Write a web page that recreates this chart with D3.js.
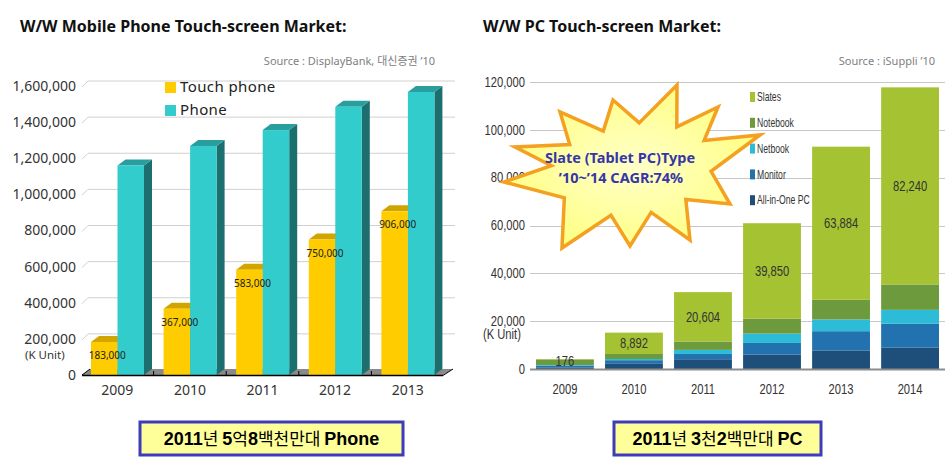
<!DOCTYPE html>
<html>
<head>
<meta charset="utf-8">
<script src="https://cdn.jsdelivr.net/npm/d3@7"></script>
<style>
  body { margin: 0; background: #fff; }
  svg { display: block; }
  .title { font-family: "Noto Sans", sans-serif; font-weight: bold; font-size: 16px; fill: #111; }
  .src { font-family: "Noto Sans", "Noto Sans CJK KR", sans-serif; font-size: 11px; fill: #808080; }
  .l-tick { font-family: "Noto Sans", sans-serif; font-size: 14px; fill: #333; }
  .r-tick { font-family: "Liberation Sans", Arial, sans-serif; font-size: 14px; fill: #333; }
  .note { font-family: "Liberation Sans", Arial, sans-serif; font-size: 18px; font-weight: bold; fill: #000; }
  .note .ko { font-family: "Noto Sans CJK KR", sans-serif; font-weight: normal; font-size: 17px; }
</style>
</head>
<body>
<script>
// ---- left chart data (K units)
const phoneYears = ['2009', '2010', '2011', '2012', '2013']
const touchPhone = [183000, 367000, 583000, 750000, 906000]
const phoneTotal = [1160000, 1268000, 1356000, 1485000, 1567000]
const phoneTicks = [0, 200000, 400000, 600000, 800000, 1000000, 1200000, 1400000, 1600000]

// ---- right chart data (K units)
const pcYears = ['2009', '2010', '2011', '2012', '2013', '2014']
const allInOne = [800, 2500, 4200, 6200, 7900, 9000]
const monitor = [700, 1300, 2200, 4800, 8000, 10000]
const netbook = [300, 500, 1700, 3900, 4900, 5800]
const notebook = [2300, 2100, 3500, 6200, 8200, 10600]
const slates = [176, 8892, 20604, 39850, 63884, 82240]
const pcTicks = [0, 20000, 40000, 60000, 80000, 100000, 120000]
const pcSeries = ['All-in-One PC', 'Monitor', 'Netbook', 'Notebook', 'Slates']

const W = 949, H = 461
const svg = d3.select('body').append('svg').attr('width', W).attr('height', H)
const fmt = d3.format(',')
const NARROW = 0.8 // horizontal squeeze for the condensed labels on the PC chart

// ===================== LEFT: mobile phone (3D columns)
svg.append('text').attr('class', 'title').attr('x', 20).attr('y', 32)
  .text('W/W Mobile Phone Touch-screen Market:')
svg.append('text').attr('class', 'src').attr('x', 435).attr('y', 65).attr('text-anchor', 'end')
  .text('Source : DisplayBank, 대신증권 \u201910')

const depth = { dx: 8, dy: -6 }
const y1 = d3.scaleLinear().domain([0, 1600000]).range([375, 86])
const x1 = d3.scaleBand().domain(phoneYears).range([81, 444])
const xs = d3.scaleBand().domain(['touch', 'phone']).range([10, 63])

const left = svg.append('g')

// back-wall gridlines
left.selectAll('g.grid').data(phoneTicks.filter(d => d > 0)).join('g').attr('class', 'grid')
  .each(function (d) {
    const g = d3.select(this), yy = y1(d)
    g.append('line').attr('x1', 82).attr('y1', yy + 1).attr('x2', 88).attr('y2', yy + depth.dy + 1)
      .attr('stroke', '#d0d0d0')
    g.append('line').attr('x1', 88).attr('x2', 455).attr('y1', yy + depth.dy + 1).attr('y2', yy + depth.dy + 1)
      .attr('stroke', '#d0d0d0')
  })

// floor
left.append('path')
  .attr('d', `M82,375 L443,375 L${443 + depth.dx + 2},${375 + depth.dy} L${82 + depth.dx},${375 + depth.dy} Z`)
  .attr('fill', '#8a8a8a')

// tick labels
left.selectAll('text.yt').data(phoneTicks).join('text').attr('class', 'l-tick yt')
  .attr('x', 76).attr('y', d => y1(d)).attr('dy', '0.35em').attr('text-anchor', 'end')
  .text(fmt)
left.append('text').attr('class', 'l-tick').style('font-size', '11.5px')
  .attr('x', 25).attr('y', 359).text('(K Unit)')

function bar3d(g, x0, w, v, front, top, side) {
  const yt = y1(v), yb = y1(0)
  g.append('path')
    .attr('d', `M${x0 + w},${yt} L${x0 + w + depth.dx},${yt + depth.dy} L${x0 + w + depth.dx},${yb + depth.dy} L${x0 + w},${yb} Z`)
    .attr('fill', side)
  g.append('path')
    .attr('d', `M${x0},${yt} L${x0 + depth.dx},${yt + depth.dy} L${x0 + w + depth.dx},${yt + depth.dy} L${x0 + w},${yt} Z`)
    .attr('fill', top)
  g.append('rect').attr('x', x0).attr('y', yt).attr('width', w).attr('height', yb - yt).attr('fill', front)
}

phoneYears.forEach((yr, i) => {
  const g = left.append('g')
  const bx = x1(yr)
  bar3d(g, bx + xs('touch'), xs.bandwidth(), touchPhone[i], '#ffcc00', '#d2a400', '#b08a00')
  bar3d(g, bx + xs('phone'), xs.bandwidth(), phoneTotal[i], '#33cccc', '#2a9d9d', '#1d6e6e')
})

// baseline and small ticks
left.append('line').attr('x1', 82).attr('x2', 443).attr('y1', 375.5).attr('y2', 375.5)
  .attr('stroke', '#000').attr('stroke-width', 1.5)
left.append('line').attr('x1', 443).attr('y1', 375.5).attr('x2', 443 + depth.dx + 2).attr('y2', 375 + depth.dy)
  .attr('stroke', '#000')
left.append('line').attr('x1', 82).attr('y1', 375).attr('x2', 82 + depth.dx).attr('y2', 375 + depth.dy)
  .attr('stroke', '#000')
left.selectAll('line.bt').data(phoneYears.slice(1)).join('line').attr('class', 'bt')
  .attr('x1', d => x1(d)).attr('x2', d => x1(d)).attr('y1', 371).attr('y2', 375)
  .attr('stroke', '#000')

// value labels
left.selectAll('text.val').data(touchPhone).join('text').attr('class', 'val')
  .attr('x', (d, i) => x1(phoneYears[i]) + xs('touch') + xs.bandwidth() / 2 + 3)
  .attr('y', d => y1(d) + 17).attr('text-anchor', 'middle')
  .style('font-family', '"Noto Sans", sans-serif').style('font-size', '10px').attr('fill', '#222')
  .text(fmt)

// year labels
left.selectAll('text.yr').data(phoneYears).join('text').attr('class', 'l-tick yr')
  .attr('x', d => x1(d) + x1.bandwidth() / 2).attr('y', 395).attr('text-anchor', 'middle')
  .text(d => d)

// legend
const leg1 = [['Touch phone', '#ffcc00'], ['Phone', '#33cccc']]
const lg1 = left.selectAll('g.leg').data(leg1).join('g').attr('class', 'leg')
  .attr('transform', (d, i) => `translate(165,${82 + i * 23})`)
lg1.append('rect').attr('width', 11).attr('height', 11).attr('fill', d => d[1])
lg1.append('text').attr('x', 15).attr('y', 10)
  .style('font-family', '"Noto Sans", sans-serif').style('font-size', '15px').attr('letter-spacing', '0.4px')
  .attr('fill', '#222').text(d => d[0])

// ===================== RIGHT: PC stacked columns
svg.append('text').attr('class', 'title').attr('x', 483).attr('y', 32)
  .text('W/W PC Touch-screen Market:')
svg.append('text').attr('class', 'src').attr('x', 935).attr('y', 65).attr('text-anchor', 'end')
  .text('Source : iSuppli  \u201910')

const y2 = d3.scaleLinear().domain([0, 120000]).range([369.3, 81.7])
const x2 = d3.scaleBand().domain(pcYears).range([530, 945]).paddingInner(0.162).paddingOuter(0.087)
const color2 = d3.scaleOrdinal().domain(pcSeries).range(['#1e4f7a', '#2372b0', '#2dbcd8', '#6e9a3e', '#a4c232'])
const squeeze = (x, y) => `translate(${x},${y}) scale(${NARROW},1)`

const right = svg.append('g')
right.selectAll('line.grid').data(pcTicks.filter(d => d > 0)).join('line').attr('class', 'grid')
  .attr('x1', 530).attr('x2', 945).attr('y1', d => Math.round(y2(d)) + 0.5).attr('y2', d => Math.round(y2(d)) + 0.5)
  .attr('stroke', '#c8c8c8')

right.selectAll('text.yt').data(pcTicks).join('text').attr('class', 'r-tick yt')
  .attr('transform', d => squeeze(525, y2(d))).attr('dy', '0.35em').attr('text-anchor', 'end')
  .text(fmt)
right.append('text').attr('class', 'r-tick').attr('transform', squeeze(483, 339)).text('(K Unit)')

const table = pcYears.map((yr, i) => ({
  year: yr,
  'All-in-One PC': allInOne[i], 'Monitor': monitor[i], 'Netbook': netbook[i],
  'Notebook': notebook[i], 'Slates': slates[i],
}))
const stacked = d3.stack().keys(pcSeries)(table)

right.selectAll('g.series').data(stacked).join('g').attr('class', 'series')
  .attr('fill', d => color2(d.key))
  .selectAll('rect').data(d => d).join('rect')
  .attr('x', d => x2(d.data.year)).attr('width', x2.bandwidth())
  .attr('y', d => y2(d[1])).attr('height', d => y2(d[0]) - y2(d[1]))

right.append('line').attr('x1', 530).attr('x2', 945).attr('y1', 369.5).attr('y2', 369.5)
  .attr('stroke', '#8c8c8c').attr('stroke-width', 2)

const slateLayer = stacked[stacked.length - 1]
right.selectAll('text.val').data(slateLayer).join('text').attr('class', 'r-tick val')
  .style('font-size', '14px').attr('fill', '#222')
  .attr('transform', d => squeeze(x2(d.data.year) + x2.bandwidth() / 2, Math.max((y2(d[0]) + y2(d[1])) / 2, y2(d[1]) + 2)))
  .attr('dy', '0.35em').attr('text-anchor', 'middle')
  .text(d => fmt(d.data.Slates))

right.selectAll('text.yr').data(pcYears).join('text').attr('class', 'r-tick yr')
  .attr('transform', d => squeeze(x2(d) + x2.bandwidth() / 2, 394)).attr('text-anchor', 'middle')
  .text(d => d)

// legend (top to bottom: Slates ... All-in-One PC)
const lg2 = right.selectAll('g.leg').data(pcSeries.slice().reverse()).join('g').attr('class', 'leg')
  .attr('transform', (d, i) => `translate(750,${97 + i * 25.8})`)
lg2.append('rect').attr('x', 0).attr('y', -5).attr('width', 5).attr('height', 10).attr('fill', d => color2(d))
lg2.append('text').attr('transform', `translate(7,0) scale(${NARROW * 0.9},1)`).attr('dy', '0.35em')
  .style('font-family', '"Liberation Sans", Arial, sans-serif').style('font-size', '12px')
  .attr('fill', '#333').text(d => d)

// starburst callout
const starC = [635, 168]
const spikes = [[42, -83], [83, -61], [125, -33], [95, 36], [55, 72], [-5, 78], [-73, 80], [-131, 14], [-120, -21], [-75, -56], [-22, -68]]
const starPts = []
spikes.forEach((p, i) => {
  const q = spikes[(i + 1) % spikes.length]
  const a1 = Math.atan2(p[1], p[0]), r1 = Math.hypot(p[0], p[1])
  let a2 = Math.atan2(q[1], q[0]); const r2 = Math.hypot(q[0], q[1])
  if (a2 < a1) a2 += Math.PI * 2
  const am = (a1 + a2) / 2, rm = (r1 + r2) / 2 * 0.55
  starPts.push([starC[0] + p[0], starC[1] + p[1]])
  starPts.push([starC[0] + Math.cos(am) * rm * 1.2, starC[1] + Math.sin(am) * rm])
})
const defs = svg.append('defs')
const rg = defs.append('radialGradient').attr('id', 'starFill')
rg.append('stop').attr('offset', '0%').attr('stop-color', '#ffffc8')
rg.append('stop').attr('offset', '100%').attr('stop-color', '#ffff88')
svg.append('path').attr('d', d3.line()(starPts) + 'Z')
  .attr('fill', 'url(#starFill)').attr('stroke', '#f4a020').attr('stroke-width', 3.5)
  .attr('stroke-linejoin', 'miter')
const starText = svg.append('text').attr('text-anchor', 'middle')
  .style('font-family', '"Noto Sans", sans-serif').style('font-weight', 'bold').style('font-size', '14.5px')
  .attr('fill', '#3636a8')
starText.append('tspan').attr('x', 620).attr('y', 163).text('Slate (Tablet PC)Type')
starText.append('tspan').attr('x', 621).attr('y', 183).text('\u201910~\u201914 CAGR:74%')

// ===================== bottom notes
const notes = [
  { x: 140, w: 263, parts: [['2011', 0], ['년 ', 1], ['5', 0], ['억', 1], ['8', 0], ['백천만대 ', 1], ['Phone', 0]] },
  { x: 614, w: 207, parts: [['2011', 0], ['년 ', 1], ['3', 0], ['천', 1], ['2', 0], ['백만대 ', 1], ['PC', 0]] },
]
notes.forEach(n => {
  svg.append('rect').attr('x', n.x).attr('y', 422).attr('width', n.w).attr('height', 33)
    .attr('fill', '#ffff99').attr('stroke', '#3d3dbb').attr('stroke-width', 3)
  const t = svg.append('text').attr('class', 'note').attr('x', n.x + n.w / 2).attr('y', 445)
    .attr('text-anchor', 'middle')
  n.parts.forEach(p => t.append('tspan').attr('class', p[1] ? 'ko' : null).text(p[0]))
})
</script>
</body>
</html>
